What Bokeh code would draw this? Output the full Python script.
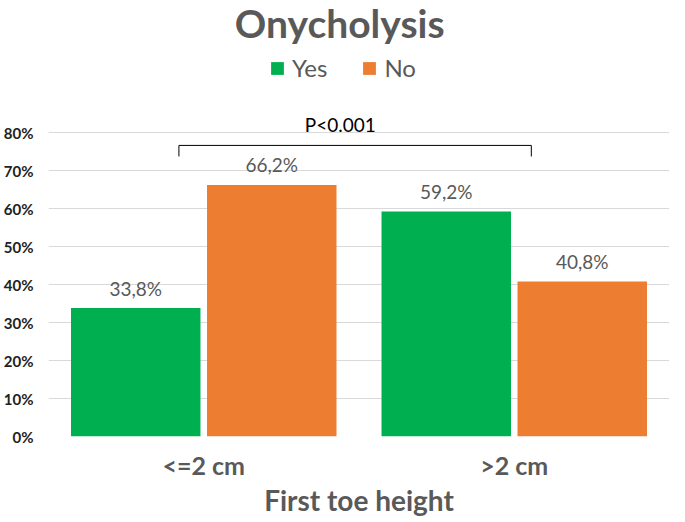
from bokeh.plotting import figure
from bokeh.models import ColumnDataSource, FactorRange, Range1d, FixedTicker, NumeralTickFormatter, Label
from bokeh.transform import dodge
from bokeh.core.properties import value
from bokeh.embed import file_html
from bokeh.resources import INLINE

# ---- data ----
categories = ["<=2 cm", ">2 cm"]
yes_values = [0.338, 0.592]
no_values = [0.662, 0.408]
series_names = ["Yes", "No"]
y_tick_values = [0.0, 0.1, 0.2, 0.3, 0.4, 0.5, 0.6, 0.7, 0.8]
title_text = "Onycholysis"
x_title = "First toe height"
p_text = "P<0.001"


def fmt(v):
    return f"{v * 100:.1f}%".replace(".", ",")


source = ColumnDataSource(dict(
    cat=categories,
    yes=yes_values,
    no=no_values,
    yes_lbl=[fmt(v) for v in yes_values],
    no_lbl=[fmt(v) for v in no_values],
))

GREEN = "#00B050"
ORANGE = "#ED7D31"
GRAY = "#595959"
FONT = "Lato"

PX_PER_UNIT = 380.0
FRAME_H = 436
p = figure(
    x_range=FactorRange(*categories),
    y_range=Range1d(0, FRAME_H / PX_PER_UNIT),
    width=669, height=520,
    output_backend="svg", toolbar_location=None,
    min_border_left=39, min_border_right=0, min_border_top=0, min_border_bottom=84,
)
p.x_range.range_padding = 0
p.outline_line_color = None
p.background_fill_color = "white"
p.border_fill_color = "white"

bw = 0.417
off = 0.219
p.vbar(x=dodge("cat", -off, range=p.x_range), top="yes", width=bw, source=source,
       fill_color=GREEN, line_color=None, legend_label=series_names[0])
p.vbar(x=dodge("cat", off, range=p.x_range), top="no", width=bw, source=source,
       fill_color=ORANGE, line_color=None, legend_label=series_names[1])

for col, lbl, o in (("yes", "yes_lbl", -off), ("no", "no_lbl", off)):
    p.text(x=dodge("cat", o, range=p.x_range), y=col, text=lbl, source=source,
           text_align="center", text_baseline="middle", y_offset=-20,
           text_font=value(FONT), text_font_size="19px", text_color=GRAY)

# significance bracket
bx0, bx1, by_top, by_bot = 0.42, 1.555, 0.766, 0.737
p.line(x=[bx0, bx0, bx1, bx1], y=[by_bot, by_top, by_top, by_bot], line_color="black", line_width=1)
p.text(x=[0.94], y=[0.821], text=[p_text], text_align="center", text_baseline="middle",
       text_font=value(FONT), text_font_size="19px", text_color="black")

# title
p.add_layout(Label(x=0.938, y=1.089, text=title_text, text_align="center", text_baseline="alphabetic",
                   text_font=FONT, text_font_size="39px", text_font_style="bold", text_color=GRAY))

# axes
p.xgrid.grid_line_color = None
p.ygrid.grid_line_color = "#D9D9D9"
p.ygrid.grid_line_width = 1.2
p.yaxis.ticker = FixedTicker(ticks=y_tick_values)
p.yaxis.formatter = NumeralTickFormatter(format="0%")
p.yaxis.axis_line_color = None
p.yaxis.major_tick_line_color = None
p.yaxis.minor_tick_line_color = None
p.yaxis.major_tick_out = 0
p.yaxis.major_tick_in = 0
p.yaxis.major_label_standoff = 15
p.yaxis.major_label_text_font = FONT
p.yaxis.major_label_text_font_size = "15px"
p.yaxis.major_label_text_font_style = "bold"
p.yaxis.major_label_text_color = "#222222"

p.xaxis.axis_line_color = None
p.xaxis.major_tick_line_color = None
p.xaxis.minor_tick_line_color = None
p.xaxis.major_tick_out = 0
p.xaxis.major_tick_in = 0
p.xaxis.major_label_standoff = 13
p.xaxis.major_label_text_font = FONT
p.xaxis.major_label_text_font_size = "25px"
p.xaxis.major_label_text_font_style = "bold"
p.xaxis.major_label_text_color = GRAY
p.xaxis.axis_label = x_title
p.xaxis.axis_label_standoff = 0
p.xaxis.axis_label_text_font = FONT
p.xaxis.axis_label_text_font_size = "28px"
p.xaxis.axis_label_text_font_style = "bold"
p.xaxis.axis_label_text_color = GRAY

# legend
lg = p.legend[0]
lg.orientation = "horizontal"
lg.location = (221, 354)
lg.border_line_color = None
lg.background_fill_alpha = 0
lg.padding = 0
lg.margin = 0
lg.spacing = 34
lg.glyph_width = 16
lg.glyph_height = 16
lg.label_standoff = 7
lg.label_text_font = FONT
lg.label_text_font_size = "24px"
lg.label_text_color = GRAY

open("out.html", "w").write(file_html(p, INLINE))
